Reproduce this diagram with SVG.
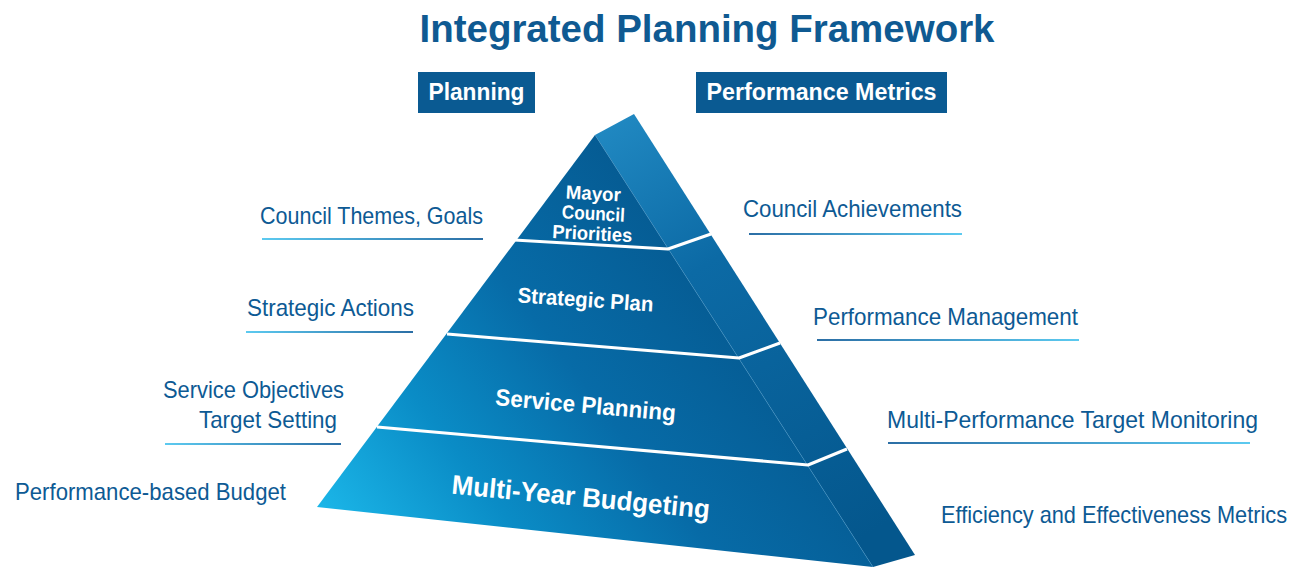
<svg xmlns="http://www.w3.org/2000/svg" width="1300" height="567" viewBox="0 0 1300 567">
<defs>
<linearGradient id="gFront" gradientUnits="userSpaceOnUse" x1="320" y1="510" x2="700" y2="220">
<stop offset="0" stop-color="#1bb6e8"/>
<stop offset="0.3" stop-color="#0a8cc6"/>
<stop offset="0.6" stop-color="#076ba7"/>
<stop offset="1" stop-color="#055990"/>
</linearGradient>
<linearGradient id="gSide" gradientUnits="userSpaceOnUse" x1="600" y1="130" x2="860" y2="540">
<stop offset="0" stop-color="#2088c1"/>
<stop offset="0.35" stop-color="#0c6aa5"/>
<stop offset="1" stop-color="#04578d"/>
</linearGradient>
<linearGradient id="uL" x1="0" y1="0" x2="1" y2="0">
<stop offset="0" stop-color="#5ccaf0"/>
<stop offset="1" stop-color="#2b6ea5"/>
</linearGradient>
<linearGradient id="uR" x1="0" y1="0" x2="1" y2="0">
<stop offset="0" stop-color="#2b6ea5"/>
<stop offset="1" stop-color="#5ccaf0"/>
</linearGradient>
</defs>
<style>
.title{font-family:"Liberation Sans",Arial,sans-serif;font-weight:bold;font-size:38px;fill:#0f5a92}
.hdr{font-family:"Liberation Sans",Arial,sans-serif;font-weight:bold;font-size:23px;fill:#ffffff}
.box{fill:#0a5a92}
.lbl{font-family:"Liberation Sans",Arial,sans-serif;font-size:24px;fill:#0d5a94}
.pt{font-family:"Liberation Sans",Arial,sans-serif;font-weight:bold;fill:#ffffff;text-anchor:middle}
.sep{fill:none;stroke:#ffffff;stroke-width:3;stroke-linejoin:round}
</style>
<rect width="1300" height="567" fill="#ffffff"/>
<text class="title" x="707" y="42" text-anchor="middle" textLength="575" lengthAdjust="spacingAndGlyphs">Integrated Planning Framework</text>

<g id="hdr-planning">
<rect class="box" x="418" y="72" width="117" height="41"/>
<text class="hdr" x="476.5" y="100" text-anchor="middle" textLength="96" lengthAdjust="spacingAndGlyphs">Planning</text>
</g>
<g id="hdr-metrics">
<rect class="box" x="696" y="72" width="251" height="41"/>
<text class="hdr" x="821.5" y="100" text-anchor="middle" textLength="230" lengthAdjust="spacingAndGlyphs">Performance Metrics</text>
</g>

<g id="pyramid">
<polygon points="595,135 634,114 915,555 873,567" fill="url(#gSide)"/>
<polygon points="595,135 317,507 873,567" fill="url(#gFront)"/>
<line x1="595" y1="135" x2="873" y2="567" stroke="#3f93c6" stroke-width="0.8" opacity="0.6"/>
<polyline class="sep" points="514,240 668,249 711,234"/>
<polyline class="sep" points="447,334 739,358 780,343"/>
<polyline class="sep" points="377,427 808,465 847,449"/>
</g>

<g id="tier-mayor">
<g transform="rotate(3 593 220)">
<text class="pt" font-size="19" x="592" y="200" textLength="55" lengthAdjust="spacingAndGlyphs">Mayor</text>
<text class="pt" font-size="19" x="593" y="220" textLength="63" lengthAdjust="spacingAndGlyphs">Council</text>
<text class="pt" font-size="19" x="593" y="240" textLength="80" lengthAdjust="spacingAndGlyphs">Priorities</text>
</g>
</g>
<g id="tier-strategic">
<text class="pt" font-size="21.5" x="585" y="307" transform="rotate(4 585 307)" textLength="136" lengthAdjust="spacingAndGlyphs">Strategic Plan</text>
</g>
<g id="tier-service">
<text class="pt" font-size="23.5" x="585" y="413" transform="rotate(5 585 413)" textLength="181" lengthAdjust="spacingAndGlyphs">Service Planning</text>
</g>
<g id="tier-budget">
<text class="pt" font-size="27" x="580" y="506" transform="rotate(5.5 580 506)" textLength="259" lengthAdjust="spacingAndGlyphs">Multi-Year Budgeting</text>
</g>

<g id="left-labels">
<g id="lbl-themes">
<text class="lbl" x="260" y="224" textLength="223" lengthAdjust="spacingAndGlyphs">Council Themes, Goals</text>
<rect x="262" y="238" width="221" height="2" fill="url(#uL)"/>
</g>
<g id="lbl-actions">
<text class="lbl" x="247" y="316" textLength="167" lengthAdjust="spacingAndGlyphs">Strategic Actions</text>
<rect x="246" y="331" width="167" height="2" fill="url(#uL)"/>
</g>
<g id="lbl-objectives">
<text class="lbl" x="163" y="398" textLength="181" lengthAdjust="spacingAndGlyphs">Service Objectives</text>
<text class="lbl" x="199" y="428" textLength="138" lengthAdjust="spacingAndGlyphs">Target Setting</text>
<rect x="165" y="443" width="176" height="2" fill="url(#uL)"/>
</g>
<g id="lbl-budget">
<text class="lbl" x="15" y="500" textLength="271" lengthAdjust="spacingAndGlyphs">Performance-based Budget</text>
</g>
</g>

<g id="right-labels">
<g id="lbl-achievements">
<text class="lbl" x="743" y="217" textLength="219" lengthAdjust="spacingAndGlyphs">Council Achievements</text>
<rect x="749" y="233" width="213" height="2" fill="url(#uR)"/>
</g>
<g id="lbl-management">
<text class="lbl" x="813" y="325" textLength="265" lengthAdjust="spacingAndGlyphs">Performance Management</text>
<rect x="817" y="339" width="262" height="2" fill="url(#uR)"/>
</g>
<g id="lbl-monitoring">
<text class="lbl" x="887" y="428" textLength="371" lengthAdjust="spacingAndGlyphs">Multi-Performance Target Monitoring</text>
<rect x="888" y="442" width="362" height="2" fill="url(#uR)"/>
</g>
<g id="lbl-efficiency">
<text class="lbl" x="1287" y="523" font-size="21" text-anchor="end" textLength="346" lengthAdjust="spacingAndGlyphs">Efficiency and Effectiveness Metrics</text>
</g>
</g>
<g id="connectors"/>
</svg>
